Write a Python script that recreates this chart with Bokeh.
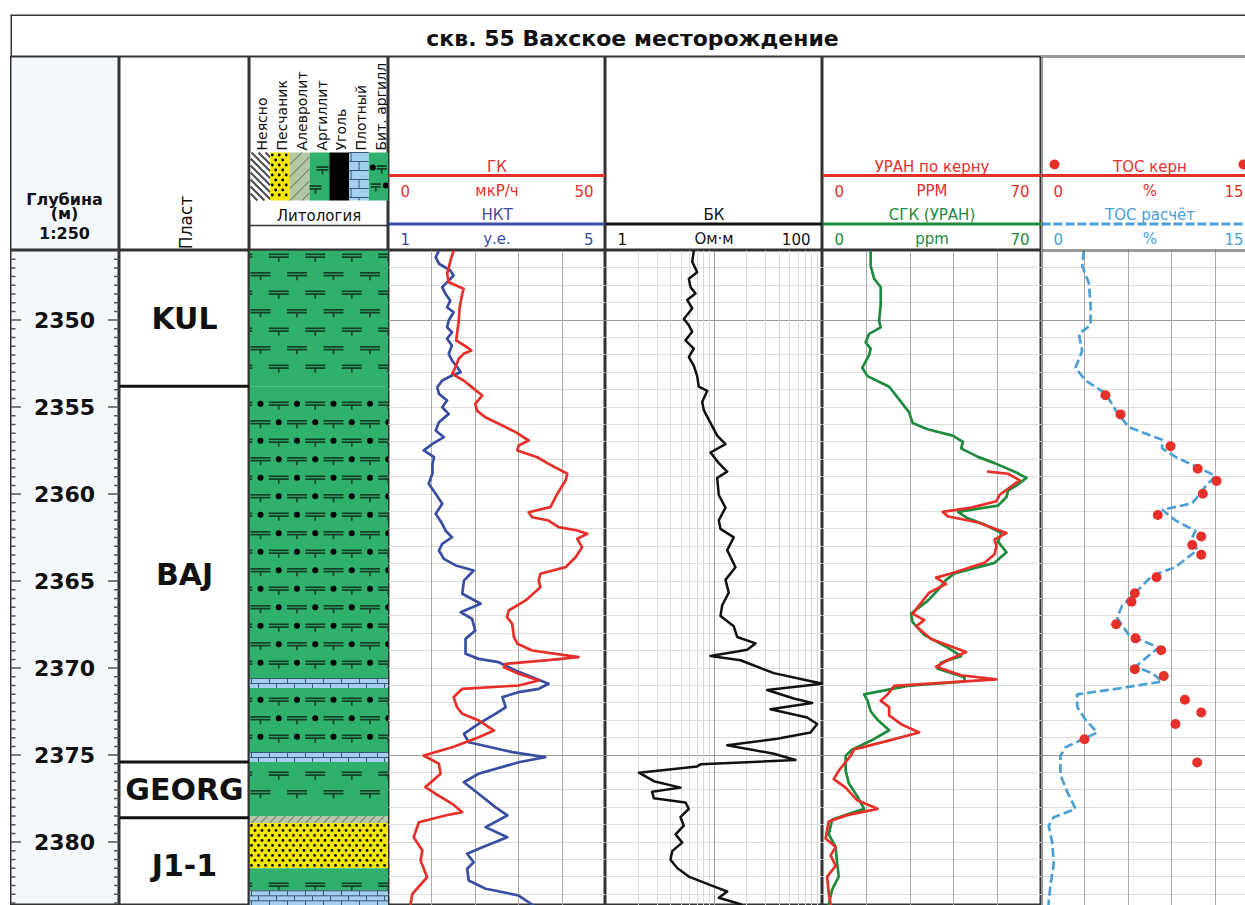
import numpy as np
from bokeh.plotting import figure
from bokeh.layouts import row, column
from bokeh.models import Range1d, Grid, FixedTicker, Spacer, Span
from bokeh.core.properties import value
from bokeh.embed import file_html
from bokeh.resources import INLINE

FONT = value("DejaVu Sans")
TITLE = "скв. 55 Вахское месторождение"

# ---------------- depth scale ----------------
DEPTH_TOP = 2346.0
PX_PER_M = 17.4
DATA_H = 655
DEPTH_BASE = DEPTH_TOP + DATA_H / PX_PER_M
M_PER_PX = 1.0 / PX_PER_M
depth_labels = [2350, 2355, 2360, 2365, 2370, 2375, 2380]

# ---------------- formations ----------------
fm_names = ["KUL", "BAJ", "GEORG", "J1-1"]
fm_top = [2346.0, 2353.8, 2375.4, 2378.6]
fm_base = [2353.8, 2375.4, 2378.6, 2384.1]

# ---------------- lithology ----------------
lith_top = [2346.0, 2353.8, 2370.6, 2371.15, 2374.85, 2375.4, 2378.5, 2378.9, 2381.5, 2382.8]
lith_base = [2353.8, 2370.6, 2371.15, 2374.85, 2375.4, 2378.5, 2378.9, 2381.5, 2382.8, 2384.2]
lith_kind = ["Аргиллит", "Бит. аргилл", "Плотный", "Бит. аргилл", "Плотный",
             "Аргиллит", "Алевролит", "Песчаник", "Аргиллит", "Плотный"]
legend_kinds = ["Неясно", "Песчаник", "Алевролит", "Аргиллит", "Уголь", "Плотный", "Бит. аргилл"]

# ---------------- logs: (depth, value) ----------------
gk = [(2346.00, 15.0), (2346.57, 14.3), (2347.34, 13.5), (2347.82, 13.9), (2348.20, 17.3), (2348.49, 17.0),
      (2349.26, 16.4), (2350.02, 16.2), (2350.77, 15.8), (2351.17, 15.6), (2351.56, 18.1), (2351.75, 19.1),
      (2351.94, 17.3), (2352.22, 16.2), (2352.71, 15.4), (2353.09, 14.7), (2353.47, 17.3), (2353.95, 19.7),
      (2354.33, 21.6), (2354.81, 20.0), (2355.20, 20.4), (2355.58, 22.3), (2355.96, 25.4), (2356.44, 29.3),
      (2356.92, 32.3), (2357.21, 30.0), (2357.49, 29.7), (2357.88, 34.3), (2358.26, 36.9), (2358.83, 41.2),
      (2359.22, 40.8), (2359.98, 38.9), (2360.75, 37.3), (2361.04, 32.3), (2361.33, 33.1), (2361.52, 36.9),
      (2361.90, 39.2), (2362.09, 43.5), (2362.28, 45.8), (2362.57, 43.5), (2363.05, 44.6), (2363.63, 43.1),
      (2364.20, 40.8), (2364.58, 35.0), (2364.97, 34.6), (2365.35, 35.0), (2366.11, 31.6), (2366.69, 27.7),
      (2367.07, 27.3), (2367.45, 28.5), (2368.22, 28.9), (2368.60, 29.7), (2368.99, 33.1), (2369.37, 43.8),
      (2369.56, 36.2), (2369.75, 27.0), (2369.95, 26.6), (2370.33, 30.0), (2370.71, 34.6), (2371.00, 30.0),
      (2371.19, 17.0), (2371.67, 15.0), (2372.25, 15.8), (2372.63, 17.0), (2373.01, 20.8), (2373.59, 24.3),
      (2373.97, 20.8), (2374.55, 14.7), (2375.02, 8.1), (2375.50, 11.6), (2376.07, 12.0), (2376.84, 8.5),
      (2377.22, 10.8), (2377.80, 14.7), (2378.28, 17.0), (2378.47, 13.1), (2378.86, 7.0), (2379.72, 5.8),
      (2380.48, 7.8), (2381.06, 7.4), (2382.02, 8.9), (2382.97, 5.5), (2383.55, 5.1), (2383.75, 5.0)]

nkt = [(2346.00, 1.93), (2346.39, 1.87), (2346.76, 1.93), (2347.15, 2.14), (2347.44, 2.20), (2347.82, 2.08),
       (2348.11, 1.99), (2348.49, 2.05), (2348.87, 2.14), (2349.26, 2.08), (2349.55, 2.20), (2350.02, 2.11),
       (2350.41, 2.08), (2350.70, 2.17), (2351.07, 2.08), (2351.46, 2.17), (2351.94, 2.11), (2352.32, 2.17),
       (2352.71, 2.27), (2352.99, 2.33), (2353.18, 2.17), (2353.47, 1.99), (2353.86, 1.90), (2354.24, 1.93),
       (2354.62, 2.08), (2355.01, 1.99), (2355.39, 2.11), (2355.87, 1.93), (2356.34, 1.87), (2356.73, 2.02),
       (2357.11, 1.81), (2357.49, 1.65), (2357.88, 1.84), (2358.26, 1.81), (2358.83, 1.81), (2359.41, 1.74),
       (2359.98, 1.87), (2360.56, 1.99), (2361.13, 1.87), (2361.71, 1.99), (2362.09, 2.05), (2362.48, 2.17),
       (2362.86, 1.99), (2363.24, 1.93), (2363.72, 2.02), (2364.10, 2.24), (2364.39, 2.57), (2364.97, 2.39),
       (2365.73, 2.36), (2366.30, 2.70), (2366.79, 2.33), (2367.17, 2.54), (2367.84, 2.60), (2368.32, 2.42),
       (2369.18, 2.42), (2369.47, 2.66), (2369.66, 3.03), (2370.14, 3.34), (2370.52, 3.65), (2370.90, 3.95),
       (2371.19, 3.77), (2371.38, 3.40), (2371.67, 3.10), (2372.25, 3.16), (2372.63, 2.97), (2373.20, 2.66),
       (2373.78, 2.39), (2374.26, 2.48), (2374.83, 3.28), (2375.12, 3.89), (2375.41, 3.40), (2376.07, 2.66),
       (2376.56, 2.39), (2377.22, 2.66), (2377.99, 2.97), (2378.47, 3.19), (2379.14, 2.79), (2379.72, 3.19),
       (2380.29, 2.73), (2380.67, 2.45), (2381.16, 2.57), (2381.53, 2.45), (2382.21, 2.48), (2382.68, 2.79),
       (2383.07, 3.40), (2383.70, 3.70)]

bk = [(2346.03, 6.51), (2346.64, 6.30), (2347.25, 7.00), (2347.62, 5.86), (2348.10, 6.07), (2348.47, 6.75),
      (2348.84, 5.66), (2349.33, 6.30), (2349.94, 5.27), (2350.30, 5.86), (2350.67, 6.30), (2351.16, 5.46),
      (2351.64, 6.51), (2352.13, 5.86), (2352.61, 6.51), (2353.22, 7.00), (2353.83, 7.24), (2354.07, 8.66),
      (2354.69, 7.79), (2355.17, 8.05), (2355.91, 9.28), (2356.64, 10.70), (2357.13, 12.76), (2357.61, 9.28),
      (2358.22, 11.07), (2358.71, 13.23), (2359.07, 10.70), (2360.05, 11.07), (2360.78, 12.76), (2361.51, 11.07),
      (2362.00, 11.48), (2362.49, 15.22), (2363.22, 13.23), (2364.20, 15.78), (2364.93, 12.76), (2365.66, 13.69),
      (2366.39, 11.90), (2367.00, 11.48), (2367.60, 15.22), (2368.21, 16.36), (2368.58, 24.13), (2368.94, 20.23),
      (2369.31, 9.28), (2369.55, 17.55), (2370.29, 35.58), (2370.90, 100.0), (2371.26, 30.93), (2371.75, 54.39),
      (2372.00, 80.37), (2372.36, 33.17), (2372.84, 72.28), (2373.21, 89.38), (2373.70, 77.50), (2374.06, 38.23),
      (2374.43, 13.23), (2374.92, 35.58), (2375.28, 56.37), (2375.53, 7.51), (2375.65, 7.00), (2376.01, 2.03),
      (2376.50, 2.79), (2376.87, 4.91), (2377.11, 2.69), (2377.48, 2.79), (2377.72, 5.46), (2378.09, 5.86),
      (2378.57, 4.91), (2379.06, 5.27), (2379.55, 4.42), (2380.03, 5.09), (2380.52, 4.12), (2381.01, 3.97),
      (2381.49, 4.58), (2381.98, 5.86), (2382.47, 9.28), (2382.84, 13.23), (2383.20, 11.07), (2383.57, 17.55),
      (2383.75, 19.0)]

u_sgk = [(2346.03, 15.4), (2346.89, 15.4), (2347.62, 16.5), (2348.10, 18.6), (2349.08, 18.6), (2350.06, 18.1),
         (2350.42, 18.6), (2350.79, 14.9), (2351.28, 13.8), (2351.64, 15.4), (2352.01, 14.9), (2352.74, 12.7),
         (2353.22, 14.4), (2353.83, 21.3), (2354.44, 24.0), (2354.93, 26.1), (2355.30, 27.7), (2355.91, 28.8),
         (2356.27, 33.6), (2356.64, 41.6), (2357.00, 44.9), (2357.37, 44.3), (2357.86, 49.7), (2358.22, 55.0),
         (2358.71, 61.4), (2359.07, 65.2), (2359.44, 62.5), (2359.80, 59.3), (2360.17, 58.8), (2360.66, 56.1),
         (2361.02, 43.3), (2361.39, 46.5), (2361.75, 51.8), (2362.24, 57.2), (2362.73, 56.1), (2363.34, 58.8),
         (2363.95, 55.0), (2364.56, 42.2), (2364.93, 39.5), (2365.53, 36.8), (2366.14, 33.6), (2366.87, 28.3),
         (2367.36, 28.8), (2368.09, 32.5), (2368.82, 40.0), (2369.31, 44.3), (2369.68, 37.9), (2370.04, 36.8),
         (2370.53, 45.4), (2370.77, 45.4), (2371.02, 27.2), (2371.51, 13.3), (2371.87, 14.4), (2372.48, 15.4),
         (2372.97, 17.6), (2373.57, 21.3), (2374.18, 15.4), (2374.67, 9.5), (2375.04, 7.4), (2375.89, 7.4),
         (2376.62, 8.4), (2377.36, 11.1), (2378.09, 13.3), (2378.70, 3.1), (2379.55, 2.0), (2380.28, 4.2),
         (2381.25, 4.7), (2381.98, 5.2), (2382.72, 3.1), (2383.57, 2.0), (2383.75, 1.8)]

u_core = [(2358.71, 52.9), (2358.83, 59.3), (2359.20, 63.0), (2359.56, 60.4), (2360.05, 56.6), (2360.41, 55.6),
          (2360.78, 47.5), (2361.02, 38.4), (2361.27, 40.0), (2361.63, 49.7), (2362.24, 58.8), (2362.61, 55.0),
          (2362.97, 55.6), (2363.46, 55.0), (2363.95, 51.8), (2364.56, 41.1), (2364.80, 36.3), (2365.17, 39.5),
          (2365.66, 34.1), (2366.39, 30.9), (2366.87, 28.8), (2367.24, 32.5), (2367.60, 29.9), (2368.33, 34.7),
          (2369.07, 45.9), (2369.55, 40.0), (2369.92, 36.3), (2370.41, 44.3), (2370.65, 55.6), (2371.02, 22.9),
          (2371.51, 20.8), (2371.87, 18.6), (2372.24, 21.3), (2372.72, 21.3), (2373.21, 25.0), (2373.70, 30.9),
          (2374.18, 20.8), (2374.67, 10.1), (2375.04, 9.0), (2375.89, 5.2), (2376.38, 3.6), (2376.87, 7.4),
          (2377.60, 11.1), (2378.09, 17.6), (2378.45, 7.9), (2378.82, 2.0), (2379.79, 1.0), (2380.28, 4.2),
          (2380.76, 2.6), (2381.37, 4.2), (2381.98, 1.5), (2382.96, 2.0), (2383.57, 2.6), (2383.75, 2.7)]

toc_calc = [(2346.03, 2.92), (2346.89, 2.81), (2347.86, 3.27), (2349.08, 3.39), (2350.30, 3.39), (2350.79, 2.58),
            (2351.76, 2.81), (2352.74, 2.35), (2353.47, 3.04), (2354.20, 4.42), (2355.17, 5.12), (2356.15, 6.03),
            (2356.88, 8.34), (2357.37, 8.34), (2357.86, 9.26), (2358.59, 11.11), (2358.95, 12.03), (2359.56, 11.34),
            (2360.53, 10.42), (2360.90, 8.34), (2361.51, 9.26), (2362.12, 10.65), (2362.49, 10.42), (2363.22, 10.76),
            (2364.20, 9.26), (2364.68, 7.65), (2365.66, 6.50), (2366.39, 5.58), (2367.11, 5.23), (2368.09, 6.03),
            (2368.82, 8.11), (2369.43, 7.19), (2369.92, 6.50), (2370.29, 7.65), (2370.77, 8.34), (2371.14, 5.58),
            (2371.51, 2.47), (2372.24, 2.47), (2372.97, 3.04), (2373.70, 3.85), (2374.06, 2.92), (2374.55, 1.66),
            (2375.04, 1.31), (2376.14, 1.31), (2377.11, 1.78), (2378.09, 2.35), (2378.57, 0.85), (2379.06, 0.50),
            (2380.03, 0.74), (2381.25, 0.85), (2382.47, 0.62), (2383.45, 0.50), (2383.75, 0.48)]

toc_core = [(2354.32, 4.42), (2355.42, 5.46), (2357.25, 8.92), (2358.54, 10.80), (2359.25, 12.10), (2359.98, 11.15),
            (2361.20, 8.04), (2362.44, 11.04), (2362.93, 10.42), (2363.49, 11.04), (2364.78, 7.95), (2365.70, 6.45),
            (2366.19, 6.22), (2367.48, 5.16), (2368.29, 6.50), (2368.97, 8.27), (2370.06, 6.45), (2370.45, 8.45),
            (2371.82, 9.91), (2372.55, 11.04), (2373.21, 9.26), (2374.09, 2.97), (2375.43, 10.76)]

# ---------------- colours ----------------
RED = "#e5302a"
BLUE = "#3a4ea1"
GREEN = "#1e8a3c"
LBLUE = "#4b9fd5"
INK = "#111111"
FRAME = "#333333"
DEPTH_BG = "#f4f8fc"
CLAY = "#2fb16d"
CLAY_MARK = "#163f27"
LITH_FILL = {"Неясно": "white", "Песчаник": "#f3e600", "Алевролит": "#b3c6a7", "Аргиллит": CLAY,
             "Уголь": "black", "Плотный": "#a3d0ef", "Бит. аргилл": CLAY}

# ---------------- layout sizes ----------------
W_PAGE = 1245
LEFT_PAD = 10
W_DEPTH, W_PLAST, W_LITH = 109, 130, 139
W_TRACK, W_U, W_TOC = 217, 219, 204
H_TITLE, H_HEAD = 42, 194
W_ALL = W_PAGE - LEFT_PAD

depth_range = Range1d(DEPTH_BASE, DEPTH_TOP)


def base_fig(width, height, x_range, y_range, x_log=False, bg="white", outline=True):
    p = figure(width=width, height=height, x_range=x_range, y_range=y_range,
               x_axis_type="log" if x_log else "linear",
               x_axis_location=None, y_axis_location=None, title=None,
               toolbar_location=None, output_backend="svg", min_border=0)
    p.xgrid.visible = False
    p.ygrid.visible = False
    p.background_fill_color = bg
    p.border_fill_color = bg
    if outline:
        p.outline_line_color = FRAME
        p.outline_line_width = 2
    else:
        p.outline_line_color = None
    return p


def txt(p, x, y, s, size="15px", color=INK, align="center", bold=False, angle=0.0):
    p.text(x=[x], y=[y], text=[s], angle=angle, text_align=align, text_baseline="middle",
           text_font=FONT, text_font_size=size, text_color=color,
           text_font_style="bold" if bold else "normal")


# ---------------- lithology symbols ----------------
ROW0 = 2346.3
ROW_STEP = 18.5 * M_PER_PX


def t_segments(points, s, hw):
    x0, y0, x1, y1 = [], [], [], []
    for x, y in points:
        for dy in (-1.4, 1.4):
            x0.append(x - hw); x1.append(x + hw); y0.append(y + dy * s); y1.append(y + dy * s)
        x0.append(x); x1.append(x); y0.append(y + 1.4 * s); y1.append(y + 6.0 * s)
    return x0, y0, x1, y1


def draw_clay_marks(p, t_pts, dot_pts, s, hw):
    if t_pts:
        p.segment(*t_segments(t_pts, s, hw), line_color=CLAY_MARK, line_width=1.7)
    if dot_pts:
        p.scatter([d[0] for d in dot_pts], [d[1] for d in dot_pts], size=6,
                  color="black", line_color=None)


def draw_lith(p, kind, x0, x1, y0, y1, s, brick_h=5, brick_w=18, silt_step=9):
    p.quad(left=[x0], right=[x1], top=[y0], bottom=[y1],
           fill_color=LITH_FILL[kind], line_color=None)
    W = x1 - x0
    H = (y1 - y0) / s
    seg = [[], [], [], []]

    def add(xa, ya, xb, yb):
        seg[0].append(x0 + xa); seg[1].append(y0 + ya * s)
        seg[2].append(x0 + xb); seg[3].append(y0 + yb * s)

    if kind == "Неясно":
        for c in np.arange(-H, W, 7.0):
            ya, yb = max(0.0, -c), min(H, W - c)
            if yb > ya:
                add(c + ya, ya, c + yb, yb)
        p.segment(*seg, line_color="#4d4d4d", line_width=2)
    elif kind == "Алевролит":
        for c in np.arange(0.0, W + H, silt_step):
            ya, yb = max(0.0, c - W), min(H, c)
            if yb > ya:
                add(c - ya, ya, c - yb, yb)
        p.segment(*seg, line_color="#56625a", line_width=1)
    elif kind == "Песчаник":
        xs, ys = [], []
        for r, yy in enumerate(np.arange(2.5, H - 1.0, 5.0)):
            for xx in np.arange(2.0 + (3.5 if r % 2 else 0.0), W - 1.0, 7.0):
                xs.append(x0 + xx); ys.append(y0 + yy * s)
        p.scatter(xs, ys, size=2.8, color="black", line_color=None)
    elif kind == "Плотный":
        r = 0
        while r * brick_h <= H + 0.01:
            yy = r * brick_h
            add(0, yy, W, yy)
            yb = min(H, yy + brick_h)
            if yb > yy:
                start = brick_w / 2 if r % 2 else 2.0
                for xx in np.arange(start, W, brick_w):
                    add(xx, yy, xx, yb)
            r += 1
        p.segment(*seg, line_color="#3b5672", line_width=1)


def clay_marks_for(top, base, with_dots):
    ts, ds = [], []
    k = int(np.floor((top - ROW0) / ROW_STEP))
    while True:
        y = ROW0 + k * ROW_STEP
        if y > base:
            break
        if top + 3 * M_PER_PX <= y <= base - 6 * M_PER_PX:
            off = 29.25 if k % 2 == 0 else 11.0
            for j in range(-1, 5):
                ts.append((off + 36.5 * j, y))
                if with_dots:
                    ds.append((off + 18.25 + 36.5 * j, y))
        k += 1
    return ts, ds


# ================= title =================
title_fig = base_fig(W_ALL, H_TITLE, Range1d(0, W_ALL), Range1d(H_TITLE, 0), outline=False)
txt(title_fig, 622, 24, TITLE, size="22px", bold=True)
for loc, dim, w in [(0, "width", 3), (H_TITLE, "width", 2), (0, "height", 3)]:
    title_fig.add_layout(Span(location=loc, dimension=dim, line_color=FRAME, line_width=w))

# ================= headers =================
hy = lambda: Range1d(H_HEAD, 0)

h_depth = base_fig(W_DEPTH, H_HEAD, Range1d(0, W_DEPTH), hy(), bg=DEPTH_BG)
for yy, s in zip([143, 157, 177], ["Глубина", "(м)", "1:250"]):
    txt(h_depth, 54, yy, s, size="16px", bold=True)

h_plast = base_fig(W_PLAST, H_HEAD, Range1d(0, W_PLAST), hy())
txt(h_plast, 66, 166, "Пласт", size="17px", angle=np.pi / 2)

h_lith = base_fig(W_LITH, H_HEAD, Range1d(0, W_LITH), hy())
sw = (W_LITH - 1) / len(legend_kinds)
for i, kind in enumerate(legend_kinds):
    xa, xb = 1 + i * sw, 1 + (i + 1) * sw
    draw_lith(h_lith, kind, xa, xb, 96, 144, 1.0, brick_h=9, brick_w=20, silt_step=12)
    xc = (xa + xb) / 2
    if kind == "Аргиллит":
        draw_clay_marks(h_lith, [(xc + 3, 112), (xc - 4, 131)], [], 1.0, 6)
    if kind == "Бит. аргилл":
        draw_clay_marks(h_lith, [(xa + 13, 111), (xa + 7, 129)], [(xa + 4, 111), (xa + 17, 129)], 1.0, 5)
    txt(h_lith, xc + 2, 94, kind, size="14px", align="left", angle=np.pi / 2)
txt(h_lith, W_LITH / 2, 159, "Литология", size="15px")
h_lith.segment(x0=[0], y0=[169], x1=[W_LITH], y1=[169], line_color=FRAME, line_width=1.5)


def header_entry(p, full_w, level, name, unit, lo, hi, color, dash="solid", hi_x=None):
    yn, yl, ys = (110, 119, 134) if level == 0 else (158, 167.5, 182)
    cx = full_w / 2
    txt(p, cx, yn, name, color=color)
    p.segment(x0=[0], y0=[yl], x1=[full_w], y1=[yl], line_color=color, line_width=3, line_dash=dash)
    txt(p, 12, ys, lo, color=color, align="left")
    txt(p, cx, ys, unit, color=color)
    txt(p, hi_x if hi_x is not None else full_w - 12, ys, hi, color=color, align="right")


h_gk = base_fig(W_TRACK, H_HEAD, Range1d(0, W_TRACK), hy())
header_entry(h_gk, W_TRACK, 0, "ГК", "мкР/ч", "0", "50", RED)
header_entry(h_gk, W_TRACK, 1, "НКТ", "у.е.", "1", "5", BLUE)

h_bk = base_fig(W_TRACK, H_HEAD, Range1d(0, W_TRACK), hy())
header_entry(h_bk, W_TRACK, 1, "БК", "Ом·м", "1", "100", INK)

h_u = base_fig(W_U, H_HEAD, Range1d(0, W_U), hy())
header_entry(h_u, W_U, 0, "УРАН по керну", "PPM", "0", "70", RED)
header_entry(h_u, W_U, 1, "СГК (УРАН)", "ppm", "0", "70", GREEN)

h_toc = base_fig(W_TOC, H_HEAD, Range1d(0, W_TOC), hy(), outline=False)
header_entry(h_toc, W_TRACK, 0, "ТОС керн", "%", "0", "15", RED, hi_x=W_TOC - 2)
header_entry(h_toc, W_TRACK, 1, "ТОС расчёт", "%", "0", "15", LBLUE, dash="9 3", hi_x=W_TOC - 2)
h_toc.scatter([13, 202], [108, 108], size=10, color=RED, line_color=None)
for loc, dim in [(0, "height"), (0, "width"), (H_HEAD, "width")]:
    h_toc.add_layout(Span(location=loc, dimension=dim, line_color=FRAME, line_width=2))

# ================= data tracks =================
depth_ticks_1m = [float(d) for d in np.arange(2346, 2385, 1.0)]


def depth_grid(p):
    p.add_layout(Grid(dimension=1, ticker=FixedTicker(ticks=depth_ticks_1m),
                      grid_line_color="#dcdcdc", grid_line_width=1))
    p.add_layout(Grid(dimension=1, ticker=FixedTicker(ticks=[2350.0, 2375.0]),
                      grid_line_color="#9a9a9a", grid_line_width=1))


def x_grid(p, ticks, color="#ababab"):
    p.add_layout(Grid(dimension=0, ticker=FixedTicker(ticks=ticks),
                      grid_line_color=color, grid_line_width=1))


def xs(c):
    return [v for _, v in c]


def ds(c):
    return [d for d, _ in c]


# depth column
t_depth = base_fig(W_DEPTH, DATA_H, Range1d(0, W_DEPTH), depth_range, bg=DEPTH_BG)
tick_d = [float(d) for d in np.arange(2346.0, 2384.0, 0.5)]
major = [d % 5 == 0 for d in tick_d]
t_depth.segment(x0=[0] * len(tick_d), y0=tick_d, x1=[10.5 if m else 5 for m in major], y1=tick_d,
                line_color="#555555", line_width=1.5)
t_depth.segment(x0=[W_DEPTH - (11.5 if m else 5.5) for m in major], y0=tick_d,
                x1=[W_DEPTH] * len(tick_d), y1=tick_d, line_color="#555555", line_width=1.5)
t_depth.text(x=[54] * len(depth_labels), y=depth_labels, text=[str(d) for d in depth_labels],
             text_align="center", text_baseline="middle", text_font=FONT, text_font_style="bold",
             text_font_size="22px", text_color=INK)

# formations
t_plast = base_fig(W_PLAST, DATA_H, Range1d(0, W_PLAST), depth_range)
t_plast.segment(x0=[0] * len(fm_base), y0=fm_base, x1=[W_PLAST] * len(fm_base), y1=fm_base,
                line_color=INK, line_width=3)
t_plast.text(x=[W_PLAST / 2] * len(fm_names), y=[(a + b) / 2 for a, b in zip(fm_top, fm_base)],
             text=fm_names, text_align="center", text_baseline="middle", text_font=FONT,
             text_font_style="bold", text_font_size="30px", text_color=INK)

# lithology column
t_lith = base_fig(W_LITH, DATA_H, Range1d(0, W_LITH), depth_range)
for top, base, kind in zip(lith_top, lith_base, lith_kind):
    draw_lith(t_lith, kind, 0, W_LITH, top, base, M_PER_PX)
    if kind in ("Аргиллит", "Бит. аргилл"):
        tp, dp = clay_marks_for(top, base, kind == "Бит. аргилл")
        draw_clay_marks(t_lith, tp, dp, M_PER_PX, 10)

# ГК / НКТ
t_gk = base_fig(W_TRACK, DATA_H, Range1d(0, 50), depth_range)
t_gk.extra_x_ranges = {"nkt": Range1d(1, 5)}
depth_grid(t_gk)
x_grid(t_gk, [10, 20, 30, 40])
t_gk.line(xs(nkt), ds(nkt), x_range_name="nkt", line_color=BLUE, line_width=2.7,
          line_join="round", line_cap="round")
t_gk.line(xs(gk), ds(gk), line_color=RED, line_width=2.7, line_join="round", line_cap="round")

# БК (log)
t_bk = base_fig(W_TRACK, DATA_H, Range1d(1, 100), depth_range, x_log=True)
depth_grid(t_bk)
x_grid(t_bk, [2, 3, 4, 5, 6, 7, 8, 9, 20, 30, 40, 50, 60, 70, 80, 90], color="#dadada")
x_grid(t_bk, [10], color="#a0a0a0")
t_bk.line(xs(bk), ds(bk), line_color=INK, line_width=2.5, line_join="round", line_cap="round")

# Уран
t_u = base_fig(W_U, DATA_H, Range1d(0, 70), depth_range)
depth_grid(t_u)
x_grid(t_u, [14, 28, 42, 56])
t_u.line(xs(u_sgk), ds(u_sgk), line_color=GREEN, line_width=2.7, line_join="round", line_cap="round")
t_u.line(xs(u_core), ds(u_core), line_color=RED, line_width=2.7, line_join="round", line_cap="round")

# TOC
t_toc = base_fig(W_TOC, DATA_H, Range1d(0, 15 * W_TOC / W_TRACK), depth_range, outline=False)
depth_grid(t_toc)
x_grid(t_toc, [3, 6, 9, 12])
t_toc.line(xs(toc_calc), ds(toc_calc), line_color=LBLUE, line_width=2.7, line_dash="9 4")
t_toc.scatter(xs(toc_core), ds(toc_core), size=10, color=RED, line_color=None)
t_toc.add_layout(Span(location=0, dimension="height", line_color=FRAME, line_width=2))
t_toc.add_layout(Span(location=DEPTH_TOP, dimension="width", line_color=FRAME, line_width=2))

layout = column(
    Spacer(width=W_PAGE, height=14),
    row(Spacer(width=LEFT_PAD, height=H_TITLE), title_fig),
    row(Spacer(width=LEFT_PAD, height=H_HEAD), h_depth, h_plast, h_lith, h_gk, h_bk, h_u, h_toc),
    row(Spacer(width=LEFT_PAD, height=DATA_H), t_depth, t_plast, t_lith, t_gk, t_bk, t_u, t_toc),
)

with open("out.html", "w", encoding="utf-8") as f:
    f.write(file_html(layout, INLINE, title=TITLE))
